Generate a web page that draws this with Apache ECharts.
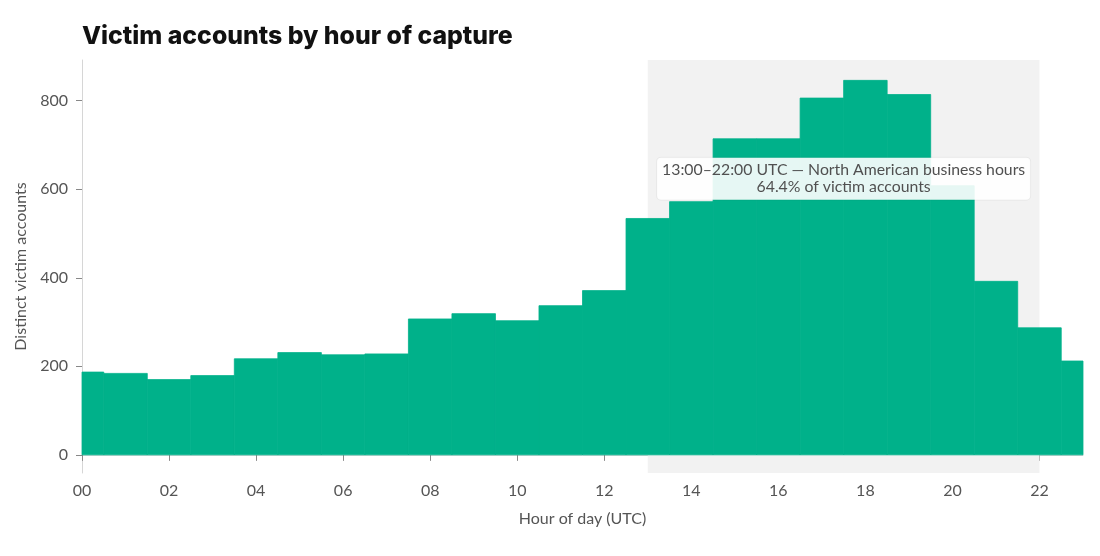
<!DOCTYPE html>
<html>
<head>
<meta charset="utf-8">
<script src="https://cdn.jsdelivr.net/npm/echarts@6/dist/echarts.min.js"></script>
<style>
html,body{margin:0;padding:0;background:#fff;}
#chart{width:1100px;height:556px;}
</style>
</head>
<body>
<div id="chart"></div>
<script>
// Hours of the day (UTC)
const hours = [0,1,2,3,4,5,6,7,8,9,10,11,12,13,14,15,16,17,18,19,20,21,22,23];
// Distinct victim accounts per hour
const accounts = [187,184,170,179,217,231,226,228,307,319,303,337,371,534,572,714,714,806,846,814,608,392,287,212];
// Tick positions / labels
const xTicks = [0,2,4,6,8,10,12,14,16,18,20,22];
const yTicks = [0,200,400,600,800];
// Highlighted window
const windowStart = 13;
const windowEnd = 22;
// Annotation anchor (data space) and text
const noteX = 17.5;
const noteY = 624;
const noteLines = ['13:00–22:00 UTC — North American business hours', '64.4% of victim accounts'];

const barData = hours.map((h, i) => [h, accounts[i]]);
const font = 'Lato, "Open Sans", sans-serif';
const barColor = '#00b18a';

function renderBar(params, api) {
  const h = api.value(0);
  const v = api.value(1);
  const p0 = api.coord([h - 0.5, v]);
  const p1 = api.coord([h + 0.5, 0]);
  const cs = params.coordSys;
  const rect = echarts.graphic.clipRectByRect(
    {x: p0[0], y: p0[1], width: p1[0] - p0[0], height: p1[1] - p0[1]},
    {x: cs.x, y: cs.y, width: cs.width, height: cs.height}
  );
  if (!rect) return null;
  return {
    type: 'rect',
    shape: rect,
    style: {fill: barColor, stroke: barColor, lineWidth: 0.8}
  };
}

const chart = echarts.init(document.getElementById('chart'), null, {renderer: 'canvas'});
chart.setOption({
  animation: false,
  backgroundColor: '#ffffff',
  title: {
    text: 'Victim accounts by hour of capture',
    left: 77,
    top: 19,
    textStyle: {fontFamily: 'Inter, "DejaVu Sans", sans-serif', fontWeight: 800, fontSize: 24.8, color: '#111111'}
  },
  grid: {left: 82, right: 17, top: 60, bottom: 83, containLabel: false},
  xAxis: {
    type: 'value',
    min: 0,
    max: 23,
    name: 'Hour of day (UTC)',
    nameLocation: 'middle',
    nameGap: 38,
    nameTextStyle: {fontFamily: font, fontSize: 16, color: '#555555'},
    splitLine: {show: false},
    axisLine: {show: true, lineStyle: {color: '#d6d6d6', width: 1}},
    axisTick: {show: true, length: 6, customValues: xTicks, lineStyle: {color: '#888888'}},
    axisLabel: {
      customValues: xTicks,
      fontFamily: font, fontSize: 16, color: '#555555', margin: 10,
      formatter: v => String(v).padStart(2, '0')
    }
  },
  yAxis: {
    type: 'value',
    min: -41,
    max: 892,
    name: 'Distinct victim accounts',
    nameLocation: 'middle',
    nameGap: 52,
    nameTextStyle: {fontFamily: font, fontSize: 16, color: '#555555'},
    splitLine: {show: false},
    axisLine: {show: true, lineStyle: {color: '#d6d6d6', width: 1}},
    axisTick: {show: true, length: 6, customValues: yTicks, lineStyle: {color: '#888888'}},
    axisLabel: {customValues: yTicks, fontFamily: font, fontSize: 16, color: '#555555', margin: 14}
  },
  series: [
    {
      type: 'line',
      z: 1,
      data: [],
      silent: true,
      markArea: {
        silent: true,
        itemStyle: {color: '#f2f2f2'},
        data: [[{xAxis: windowStart}, {xAxis: windowEnd}]]
      }
    },
    {
      type: 'custom',
      z: 3,
      data: barData,
      encode: {x: 0, y: 1},
      renderItem: renderBar
    },
    {
      type: 'scatter',
      z: 10,
      symbolSize: 0,
      silent: true,
      itemStyle: {opacity: 1},
      data: [[noteX, noteY]],
      label: {
        show: true,
        position: 'inside',
        formatter: noteLines.join('\n'),
        fontFamily: font,
        fontSize: 15.8,
        lineHeight: 17,
        color: '#505050',
        align: 'center',
        backgroundColor: 'rgba(255,255,255,0.9)',
        borderColor: 'rgba(0,0,0,0.04)',
        borderWidth: 1,
        borderRadius: 4,
        padding: [4, 5]
      }
    }
  ]
});
</script>
</body>
</html>
